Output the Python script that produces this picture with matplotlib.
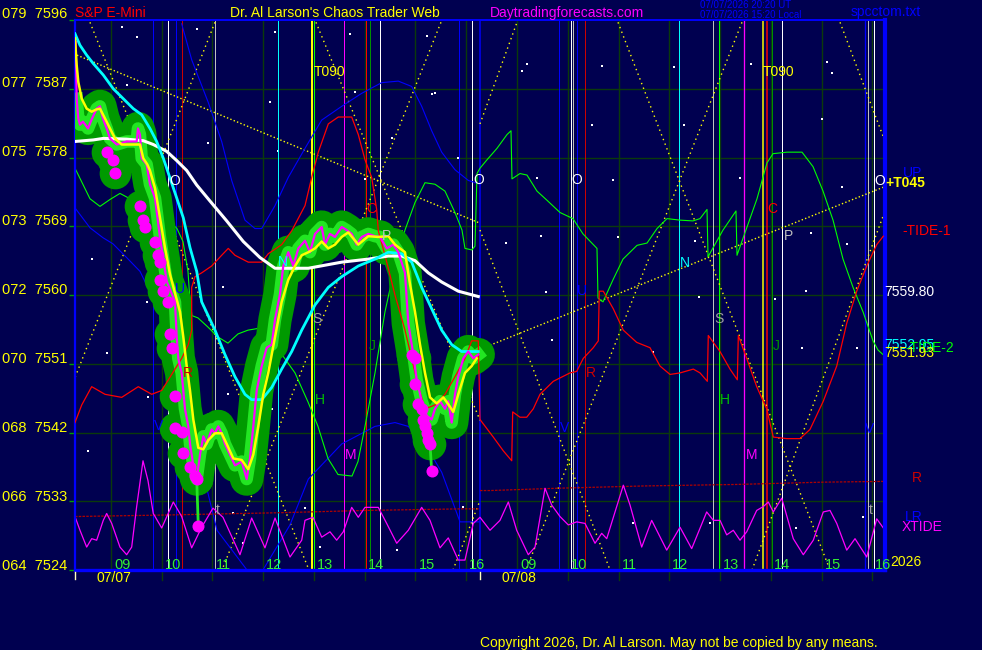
import matplotlib
matplotlib.use("Agg")
import matplotlib.pyplot as plt

plt.rcParams['font.family'] = ['Liberation Sans', 'DejaVu Sans']

W, H = 982, 650
BG = "#000050"
GRID = "#0b3a0b"

# x axis: session hours counted from 07/07 09:00, 8 hours per session
t_min, t_max = -0.709, 15.251
price_min, price_max = 7524.0, 7595.74

grid_prices = [7533, 7542, 7551, 7560, 7569, 7578, 7587]
axis_labels = [(7596, "079  7596"), (7587, "077  7587"), (7578, "075  7578"),
               (7569, "073  7569"), (7560, "072  7560"), (7551, "070  7551"),
               (7542, "068  7542"), (7533, "066  7533"), (7524, "064  7524")]
hour_lines = [0, 1, 2, 3, 4, 5, 6, 7, 8, 9, 10, 11, 12, 13, 14, 15]
hour_labels = ["09", "10", "11", "12", "13", "14", "15", "16"] * 2

# actual price (magenta)
price = [(-0.696, 7593.1), (-0.676, 7585.7), (-0.644, 7583.1), (-0.611, 7582.3), (-0.552, 7582.7),
         (-0.453, 7581.8), (-0.380, 7583.0), (-0.282, 7584.4), (-0.217, 7584.7), (-0.158, 7583.1),
         (-0.085, 7581.8), (-0.020, 7580.5), (0.112, 7579.7), (0.309, 7580.1), (0.506, 7580.1),
         (0.532, 7581.8), (0.571, 7581.0), (0.605, 7577.9), (0.703, 7577.1), (0.768, 7574.5),
         (0.867, 7572.7), (0.966, 7567.5), (1.098, 7561.8), (1.261, 7559.1), (1.295, 7554.5),
         (1.326, 7551.7), (1.393, 7549.8), (1.458, 7545.1), (1.523, 7542.8), (1.557, 7540.5),
         (1.622, 7537.7), (1.689, 7535.9), (1.754, 7539.1), (1.819, 7541.5), (1.886, 7540.5),
         (1.984, 7542.4), (2.049, 7541.9), (2.114, 7542.8), (2.181, 7541.9), (2.246, 7540.5),
         (2.345, 7539.1), (2.443, 7537.7), (2.575, 7538.2), (2.674, 7535.9), (2.739, 7538.6),
         (2.804, 7542.8), (2.871, 7547.5), (2.970, 7550.7), (3.068, 7553.1), (3.167, 7553.5),
         (3.232, 7556.8), (3.330, 7560.1), (3.395, 7563.8), (3.494, 7565.6), (3.592, 7563.8),
         (3.691, 7566.1), (3.823, 7567.1), (3.921, 7565.6), (4.020, 7568.0), (4.152, 7568.9),
         (4.217, 7566.6), (4.315, 7568.0), (4.414, 7567.6), (4.546, 7568.9), (4.644, 7568.5),
         (4.743, 7568.0), (4.841, 7566.6), (4.940, 7567.6), (5.070, 7568.0), (5.202, 7567.7),
         (5.300, 7567.6), (5.433, 7566.1), (5.562, 7566.6), (5.661, 7565.6), (5.793, 7562.9),
         (5.858, 7556.3), (5.957, 7552.2), (6.024, 7548.9), (6.122, 7546.1), (6.221, 7544.2),
         (6.319, 7543.7), (6.384, 7545.1), (6.483, 7546.1), (6.581, 7545.1), (6.646, 7546.1),
         (6.713, 7543.3), (6.778, 7547.0), (6.843, 7549.3), (6.942, 7551.7), (7.040, 7552.6),
         (7.139, 7551.7), (7.237, 7552.2)]

fast_avg = [(-0.709, 7593.6), (-0.676, 7590.1), (-0.644, 7587.9), (-0.577, 7585.7), (-0.479, 7584.4),
            (-0.380, 7584.0), (-0.282, 7584.3), (-0.217, 7584.4), (-0.118, 7583.1), (-0.020, 7581.8),
            (0.079, 7580.5), (0.211, 7579.7), (0.439, 7579.7), (0.571, 7579.7), (0.636, 7577.9),
            (0.715, 7577.1), (0.768, 7576.3), (0.867, 7574.0), (0.966, 7570.1), (1.064, 7566.2),
            (1.163, 7562.7), (1.360, 7557.8), (1.425, 7554.5), (1.492, 7550.7), (1.557, 7547.5),
            (1.622, 7543.7), (1.720, 7540.0), (1.819, 7539.8), (1.917, 7541.0), (2.049, 7541.9),
            (2.181, 7541.9), (2.280, 7540.5), (2.410, 7538.6), (2.575, 7538.4), (2.705, 7537.2),
            (2.804, 7539.1), (2.902, 7542.8), (3.001, 7547.0), (3.099, 7549.8), (3.232, 7554.5),
            (3.363, 7559.1), (3.494, 7562.0), (3.626, 7563.8), (3.758, 7565.2), (3.888, 7565.6),
            (4.020, 7566.1), (4.152, 7567.0), (4.282, 7566.1), (4.414, 7566.6), (4.546, 7567.6),
            (4.676, 7568.2), (4.873, 7566.6), (5.070, 7567.7), (5.267, 7567.6), (5.464, 7567.7),
            (5.596, 7566.6), (5.793, 7565.6), (5.892, 7561.4), (5.990, 7557.8), (6.089, 7553.5),
            (6.187, 7549.8), (6.286, 7546.6), (6.418, 7545.8), (6.548, 7546.6), (6.646, 7545.7),
            (6.745, 7544.7), (6.843, 7547.0), (6.975, 7549.8), (7.107, 7550.7), (7.206, 7551.7)]

mid_avg = [(-0.709, 7594.2), (-0.611, 7592.7), (-0.479, 7591.4), (-0.349, 7590.3), (-0.152, 7588.8),
           (0.045, 7587.0), (0.242, 7585.7), (0.439, 7584.4), (0.605, 7583.6), (0.768, 7581.8),
           (0.900, 7580.1), (1.031, 7577.9), (1.163, 7575.3), (1.295, 7572.7), (1.425, 7570.1),
           (1.557, 7566.2), (1.689, 7563.1), (1.787, 7559.1), (2.049, 7555.4), (2.246, 7552.2),
           (2.443, 7549.3), (2.640, 7547.0), (2.772, 7546.3), (2.970, 7546.3), (3.167, 7547.9),
           (3.363, 7550.3), (3.561, 7552.6), (3.758, 7555.4), (4.020, 7558.7), (4.282, 7561.0),
           (4.546, 7562.4), (4.873, 7563.8), (5.202, 7564.7), (5.464, 7565.6), (5.728, 7565.4),
           (5.925, 7564.3), (6.122, 7561.0), (6.319, 7558.2), (6.516, 7555.4), (6.713, 7553.5),
           (6.910, 7552.6), (7.237, 7552.6)]

slow_avg = [(-0.709, 7580.1), (-0.349, 7580.3), (-0.152, 7580.5), (0.309, 7580.4), (0.636, 7580.2),
            (0.833, 7579.7), (1.098, 7578.8), (1.295, 7577.6), (1.492, 7576.3), (1.689, 7574.4),
            (1.951, 7572.3), (2.280, 7569.7), (2.607, 7567.0), (2.936, 7564.9), (3.232, 7563.5),
            (3.561, 7563.5), (3.888, 7563.5), (4.546, 7564.3), (5.070, 7564.7), (5.464, 7565.1),
            (5.728, 7565.1), (5.990, 7564.5), (6.252, 7562.9), (6.516, 7561.7), (6.843, 7560.5),
            (7.237, 7559.8)]

turn_dots = [(-0.085, 7578.7), (0.045, 7577.7), (0.079, 7576.0), (0.571, 7571.7), (0.636, 7569.8),
             (0.670, 7568.9), (0.867, 7567.0), (0.932, 7565.2), (0.966, 7564.3), (0.966, 7562.0),
             (1.031, 7560.5), (1.129, 7559.1), (1.163, 7554.9), (1.196, 7553.1), (1.261, 7546.8),
             (1.261, 7542.6), (1.393, 7542.1), (1.425, 7539.3), (1.557, 7537.5), (1.655, 7536.3),
             (1.689, 7535.9), (5.925, 7552.2), (5.990, 7551.7), (5.990, 7548.4),
             (6.055, 7545.7), (6.122, 7545.1), (6.154, 7543.7), (6.187, 7542.8), (6.221, 7541.9),
             (6.252, 7541.0), (6.286, 7540.5)]
low_dots = [(1.720, 7529.8), (6.319, 7537.0)]

green_fc = [(-0.709, 7576.6), (-0.414, 7572.6), (-0.217, 7571.6), (-0.020, 7572.5), (0.177, 7573.3),
            (0.374, 7572.6), (0.571, 7572.3), (0.828, 7571.3), (1.103, 7570.0), (1.300, 7568.7),
            (1.419, 7567.0), (1.517, 7563.1), (1.557, 7559.2), (1.596, 7557.3), (1.714, 7557.0),
            (1.911, 7555.8), (2.108, 7554.5), (2.305, 7553.7), (2.502, 7554.9), (2.700, 7555.4),
            (2.877, 7555.6), (3.094, 7554.0), (3.369, 7552.2), (3.626, 7549.8), (3.882, 7546.0),
            (4.079, 7542.8), (4.276, 7538.6), (4.473, 7536.5), (4.749, 7536.3), (4.867, 7538.2),
            (5.005, 7542.8), (5.202, 7549.8), (5.399, 7557.8), (5.596, 7563.8), (5.793, 7568.5),
            (5.990, 7572.1), (6.187, 7574.7), (6.384, 7574.5), (6.581, 7573.6), (6.778, 7570.8),
            (6.916, 7568.5), (6.975, 7566.1), (7.113, 7565.9), (7.172, 7566.4), (7.212, 7575.9),
            (7.271, 7576.6), (7.409, 7577.7), (7.606, 7579.2), (7.803, 7581.0), (7.882, 7581.5),
            (7.901, 7575.2), (8.059, 7575.9), (8.197, 7575.7), (8.394, 7573.6), (8.591, 7572.4),
            (8.847, 7570.8), (9.103, 7570.0), (9.300, 7568.0), (9.576, 7566.1), (9.596, 7559.6),
            (9.695, 7559.1), (9.892, 7562.0), (10.089, 7564.7), (10.365, 7566.5), (10.562, 7566.8),
            (10.759, 7568.7), (10.956, 7570.0), (11.212, 7569.8), (11.468, 7569.7), (11.606, 7570.0),
            (11.744, 7571.2), (11.764, 7565.0), (12.059, 7568.5), (12.315, 7571.0), (12.335, 7565.2),
            (12.532, 7568.9), (12.729, 7572.6), (12.926, 7577.3), (13.044, 7578.5), (13.320, 7578.7),
            (13.616, 7578.7), (13.833, 7576.8), (14.030, 7573.6), (14.227, 7569.8), (14.424, 7564.7),
            (14.621, 7561.0), (14.818, 7557.8), (15.015, 7554.0), (15.113, 7552.8), (15.212, 7552.2)]

red_fc = [(-0.709, 7543.3), (-0.577, 7545.6), (-0.380, 7548.0), (-0.118, 7547.0), (0.211, 7546.6),
          (0.538, 7548.0), (0.802, 7547.0), (0.999, 7547.5), (1.261, 7550.3), (1.393, 7551.7),
          (1.523, 7553.5), (1.590, 7555.4), (1.590, 7561.0), (1.655, 7562.4), (1.787, 7562.9),
          (1.984, 7563.8), (2.181, 7565.2), (2.311, 7566.1), (2.443, 7565.2), (2.705, 7564.3),
          (2.970, 7564.3), (3.099, 7565.4), (3.364, 7566.6), (3.561, 7568.4), (3.823, 7571.7),
          (3.955, 7575.4), (4.085, 7578.7), (4.282, 7582.4), (4.479, 7583.3), (4.743, 7583.3),
          (4.873, 7581.0), (5.005, 7577.7), (5.137, 7575.4), (5.235, 7571.2), (5.267, 7568.4),
          (5.399, 7565.2), (5.596, 7560.0), (5.793, 7555.4), (5.925, 7551.7), (6.055, 7548.0),
          (6.187, 7545.1), (6.384, 7545.6), (6.581, 7547.0), (6.778, 7549.3), (6.975, 7551.7),
          (7.107, 7554.0), (7.237, 7554.0), (7.271, 7543.7), (7.533, 7541.4), (7.730, 7539.6),
          (7.896, 7538.3), (7.915, 7544.7), (8.059, 7544.0), (8.191, 7544.0), (8.321, 7545.1),
          (8.453, 7547.0), (8.715, 7548.7), (9.044, 7549.8), (9.176, 7550.0), (9.306, 7551.7),
          (9.503, 7553.1), (9.602, 7554.0), (9.621, 7560.5), (9.700, 7560.5), (9.897, 7558.2),
          (10.094, 7555.4), (10.358, 7553.8), (10.621, 7553.1), (10.818, 7550.7), (11.015, 7549.6),
          (11.212, 7549.8), (11.474, 7550.3), (11.606, 7549.8), (11.750, 7548.7), (11.769, 7554.7),
          (12.000, 7552.6), (12.197, 7550.3), (12.341, 7548.9), (12.361, 7554.7), (12.526, 7551.7),
          (12.723, 7548.0), (12.920, 7545.1), (13.050, 7541.4), (13.314, 7541.2), (13.576, 7541.2),
          (13.773, 7542.4), (14.035, 7546.1), (14.300, 7550.7), (14.497, 7556.3), (14.694, 7560.5),
          (14.891, 7563.8), (15.088, 7566.6), (15.218, 7567.7)]

blue_hump = [(1.393, 7595.5), (1.590, 7590.8), (1.917, 7585.2), (2.181, 7580.1), (2.378, 7575.0),
             (2.640, 7569.8), (2.837, 7568.7), (2.970, 7568.7), (3.232, 7571.7), (3.494, 7575.4),
             (3.823, 7579.2), (4.152, 7582.9), (4.546, 7584.7), (4.940, 7586.4), (5.334, 7587.8),
             (5.661, 7588.0), (5.925, 7587.3), (6.122, 7584.7), (6.319, 7581.5), (6.516, 7578.7),
             (6.778, 7576.4), (7.040, 7575.0), (7.271, 7574.5)]
blue_fall = [(-0.709, 7571.4), (-0.414, 7568.8), (-0.158, 7567.5), (0.039, 7566.7), (0.309, 7564.9),
             (0.571, 7563.1), (0.867, 7559.1), (1.261, 7551.4), (1.655, 7541.0), (2.089, 7529.2),
             (2.680, 7524.0)]
blue_low = [(2.995, 7524.0), (3.527, 7529.9), (3.888, 7535.9), (4.546, 7540.5), (5.202, 7542.8),
            (5.596, 7543.3), (5.858, 7542.8), (6.187, 7540.5), (6.516, 7536.8), (6.877, 7530.3),
            (7.271, 7530.3)]

red_level_1 = [(-0.709, 7531.0), (1.098, 7531.2), (3.330, 7531.5), (5.039, 7531.8), (6.877, 7532.0),
               (7.271, 7532.0)]
red_level_2 = [(7.271, 7534.4), (7.468, 7534.4), (8.782, 7534.7), (10.489, 7535.0), (12.329, 7535.2),
               (14.035, 7535.5), (15.251, 7535.6)]

xtide = [(-0.709, 7531.0), (-0.611, 7529.2), (-0.479, 7527.0), (-0.380, 7528.1), (-0.282, 7527.9),
         (-0.152, 7530.5), (-0.085, 7531.4), (0.014, 7530.1), (0.177, 7527.0), (0.309, 7526.0),
         (0.408, 7527.0), (0.506, 7532.3), (0.631, 7538.3), (0.729, 7535.7), (0.833, 7531.4),
         (0.999, 7529.5), (1.228, 7532.9), (1.393, 7531.0), (1.590, 7526.9), (1.787, 7529.6),
         (2.010, 7532.1), (2.207, 7530.9), (2.542, 7526.0), (2.772, 7530.8), (3.034, 7526.9),
         (3.232, 7530.8), (3.527, 7525.7), (3.758, 7527.9), (3.823, 7530.5), (3.980, 7530.9),
         (4.152, 7528.3), (4.315, 7529.0), (4.447, 7527.9), (4.577, 7529.0), (4.743, 7532.2),
         (4.873, 7530.9), (5.005, 7532.2), (5.267, 7532.2), (5.432, 7530.1), (5.630, 7527.5),
         (5.858, 7529.2), (6.122, 7532.2), (6.286, 7530.5), (6.483, 7526.9), (6.646, 7528.2),
         (6.843, 7525.3), (6.975, 7525.3), (7.139, 7530.1), (7.271, 7530.9), (7.468, 7529.2),
         (7.665, 7530.5), (7.829, 7532.9), (7.994, 7529.2), (8.223, 7526.0), (8.355, 7527.0),
         (8.552, 7534.7), (8.684, 7532.5), (8.847, 7531.0), (9.011, 7529.9), (9.176, 7530.3),
         (9.340, 7530.1), (9.537, 7527.5), (9.669, 7528.8), (9.768, 7528.1), (10.095, 7535.1),
         (10.227, 7532.5), (10.457, 7527.0), (10.654, 7530.5), (10.950, 7526.6), (11.212, 7529.6),
         (11.442, 7526.8), (11.738, 7531.6), (11.868, 7530.5), (12.000, 7530.5), (12.132, 7528.6),
         (12.262, 7529.2), (12.394, 7527.9), (12.526, 7529.0), (12.723, 7531.8), (12.853, 7532.3),
         (12.952, 7532.9), (13.050, 7531.6), (13.216, 7533.4), (13.444, 7528.1), (13.641, 7526.0),
         (13.838, 7527.9), (14.035, 7531.6), (14.167, 7531.8), (14.300, 7530.1), (14.497, 7526.6),
         (14.660, 7528.1), (14.891, 7525.7), (15.088, 7530.7), (15.251, 7529.2)]

# dotted time/price lines: (start, end)
time_price_lines = [((-0.414, 7595.7), (3.901, 7524.0)), ((2.049, 7595.7), (-0.709, 7549.2)),
                    ((4.039, 7595.7), (7.271, 7543.6)), ((6.502, 7595.7), (2.187, 7524.0)),
                    ((6.739, 7524.0), (7.271, 7533.1)), ((7.271, 7582.4), (8.000, 7595.7)),
                    ((7.271, 7568.5), (9.833, 7524.0)), ((9.990, 7595.7), (14.167, 7524.0)),
                    ((12.433, 7595.7), (8.177, 7524.0)), ((12.631, 7524.0), (15.251, 7571.0)),
                    ((14.365, 7595.7), (15.251, 7580.1))]
trend_lines = [((-0.670, 7591.4), (7.271, 7569.4)), ((7.271, 7552.9), (15.251, 7574.2))]

# vertical timing lines: (time, colour, width px)
timing_lines = [(0.828, '#0000ff', 1), (1.123, '#ffffff', 1), (1.281, '#0000ff', 1), (1.399, '#cc0000', 1),
                (2.049, '#c0c0c0', 1), (3.291, '#00ffff', 1), (3.961, '#ffff00', 2), (4.000, '#00ff00', 1),
                (4.591, '#ff00ff', 1), (5.025, '#ff0000', 1), (5.103, '#009000', 1), (5.300, '#ffffff', 1),
                (6.857, '#0000ff', 1), (7.113, '#ffffff', 1), (7.271, '#0000ff', 1.5),
                (8.833, '#0000ff', 1), (9.058, '#ffffff', 1), (9.109, '#c0c0c0', 1), (9.176, '#0000ff', 1),
                (9.346, '#cc0000', 1), (11.198, '#00ffff', 1), (11.868, '#c0c0c0', 1), (11.986, '#00ff00', 1),
                (12.479, '#ff00ff', 1.3), (12.841, '#ffff00', 1.5), (12.920, '#ff0000', 1.5),
                (13.030, '#009000', 1), (13.227, '#ffffff', 1), (14.857, '#0000ff', 1.3),
                (14.910, '#c0c0c0', 1), (15.040, '#ffffff', 1)]

letters = [(1.261, 7574.9, 'O', '#ffffff'), (1.360, 7560.8, 'U', '#0000ff'), (1.523, 7549.8, 'R', '#cc0000'),
           (0.932, 7542.8, 'V', '#0000ff'), (2.114, 7531.9, 't', '#a0a0a0'), (3.395, 7564.3, 'N', '#00ffff'),
           (4.053, 7556.8, 'S', '#a0a0a0'), (4.118, 7546.2, 'H', '#00c000'), (4.729, 7539.0, 'M', '#ff00ff'),
           (5.137, 7571.2, 'C', '#ff0000'), (5.157, 7553.3, 'J', '#009000'), (5.432, 7567.7, 'P', '#c0c0c0'),
           (7.251, 7575.0, 'O', '#ffffff'), (9.176, 7575.0, 'O', '#ffffff'), (9.275, 7560.5, 'U', '#0000ff'),
           (9.458, 7549.8, 'R', '#cc0000'), (8.946, 7542.6, 'V', '#0000ff'), (11.310, 7564.2, 'N', '#00ffff'),
           (11.986, 7556.9, 'S', '#a0a0a0'), (12.099, 7546.2, 'H', '#00c000'), (12.624, 7539.0, 'M', '#ff00ff'),
           (13.030, 7571.2, 'C', '#ff0000'), (13.117, 7553.3, 'J', '#009000'), (13.346, 7567.7, 'P', '#c0c0c0'),
           (14.956, 7542.4, 'V', '#0000ff'), (14.970, 7531.9, 't', '#a0a0a0'), (15.153, 7574.9, 'O', '#ffffff')]
turn_marks = [(4.000, 7589.2, 'T090'), (12.850, 7589.2, 'T090')]

stars = [(0.211, 7595.1), (0.309, 7587.5), (3.133, 7585.3), (3.232, 7594.4), (4.709, 7594.2), (4.808, 7586.6),
         (6.221, 7593.9), (6.319, 7586.3), (1.689, 7594.8), (8.191, 7590.3), (8.093, 7589.3), (9.681, 7590.0),
         (11.099, 7589.9), (12.605, 7590.3), (14.102, 7590.5), (14.201, 7589.1), (14.004, 7583.0),
         (12.394, 7575.3), (14.398, 7574.1), (13.793, 7568.1), (14.496, 7566.7), (13.695, 7560.5),
         (13.090, 7559.5), (14.694, 7553.0), (13.610, 7553.1), (9.484, 7582.2), (8.388, 7575.3),
         (9.898, 7575.0), (7.789, 7566.8), (8.479, 7567.7), (9.996, 7567.6), (8.571, 7560.4),
         (11.592, 7559.7), (8.690, 7554.1), (10.674, 7552.5), (11.291, 7582.2), (11.501, 7567.1),
         (2.410, 7531.4), (2.607, 7527.5), (4.118, 7527.0), (5.630, 7526.6), (6.942, 7532.3),
         (10.292, 7530.1), (11.803, 7530.2), (13.498, 7529.5), (14.812, 7530.9), (0.506, 7593.8),
         (1.917, 7579.9), (3.297, 7578.8), (3.823, 7566.1), (0.703, 7559.1), (-0.085, 7552.4),
         (-0.447, 7539.6), (0.735, 7546.6), (-0.380, 7564.7), (2.213, 7561.0), (2.311, 7547.0),
         (5.858, 7561.0), (6.483, 7545.8), (6.384, 7586.4), (5.531, 7580.6), (5.005, 7575.2),
         (6.843, 7578.0), (3.167, 7545.1), (3.823, 7532.1)]


def px_to_fig(x, y):
    return x / W, 1 - y / H


def xy(series):
    return [s[0] for s in series], [s[1] for s in series]


fig = plt.figure(figsize=(W / 100, H / 100), dpi=100, facecolor=BG)
ax = fig.add_axes([75 / W, 80 / H, 810 / W, 550 / H], facecolor=BG)
ax.set_xlim(t_min, t_max)
ax.set_ylim(price_min, price_max)
ax.set_xticks([])
ax.set_yticks([p for p, _ in axis_labels])
ax.set_yticklabels([])
ax.tick_params(axis='y', length=4, width=1, color='#00a000')

# frame
for side, lw in (('left', 1.6), ('top', 1.4), ('bottom', 2.4), ('right', 3.0)):
    ax.spines[side].set_color('#0000ff')
    ax.spines[side].set_linewidth(lw)

# grid
for p in grid_prices:
    ax.axhline(p, color=GRID, lw=1.0, zorder=0.5)
for h in hour_lines:
    ax.axvline(h, ymin=-0.018, ymax=1, color=GRID, lw=1.0, zorder=0.5, clip_on=False)

# stars
sx, sy = xy(stars)
ax.scatter(sx, sy, s=1.5, color='white', marker='s', linewidths=0, zorder=0.8)

# timing lines
for t, c, w in timing_lines:
    ax.axvline(t, color=c, lw=w * 0.72, zorder=1)

# dotted lines
for (a, b) in time_price_lines:
    ax.plot([a[0], b[0]], [a[1], b[1]], color='#ffff00', lw=1.0, ls=(0, (1, 2.6)), zorder=1.5)
for (a, b) in trend_lines:
    ax.plot([a[0], b[0]], [a[1], b[1]], color='#ffff00', lw=1.0, ls=(0, (1, 1.6)), zorder=1.5)

# forecast lines
ax.plot(*xy(blue_hump), color='#0000ff', lw=0.8, zorder=2)
ax.plot(*xy(blue_fall), color='#0000ff', lw=0.8, zorder=2)
ax.plot(*xy(blue_low), color='#0000ff', lw=0.8, zorder=2)
ax.plot(*xy(red_level_1), color='#b00000', lw=0.9, ls=(0, (2, 1)), zorder=2)
ax.plot(*xy(red_level_2), color='#b00000', lw=0.9, ls=(0, (2, 1)), zorder=2)
ax.plot(*xy(xtide), color='#ff00ff', lw=0.9, zorder=2)
ax.plot(*xy(green_fc), color='#00ff00', lw=0.8, zorder=2)

# price glow (bar range band)
pt, pp = xy(price)
dx, dy = xy(turn_dots)
lx, ly = xy(low_dots)
ax.plot(pt[2:], pp[2:], color='#009a00', lw=24, solid_capstyle='round', solid_joinstyle='round', zorder=3)
ax.scatter(dx, dy, s=520, color='#009a00', linewidths=0, zorder=3)
ax.plot(pt[1:], pp[1:], color='#22e622', lw=9, solid_joinstyle='round', zorder=3.2)
for (t0, p0), (t1, p1) in zip(low_dots, [(1.689, 7535.9), (6.286, 7540.5)]):
    ax.plot([t0, t1], [p0, p1], color='#22e622', lw=2, zorder=3.2)

ax.plot(*xy(red_fc), color='#ff0000', lw=0.9, zorder=3.5)

ax.plot(*xy(slow_avg), color='#ffffff', lw=2.2, zorder=4)
ax.plot(*xy(mid_avg), color='#00ffff', lw=2.0, zorder=4)
ax.plot(pt, pp, color='#ff00ff', lw=1.6, zorder=5)
ax.plot(*xy(fast_avg), color='#ffff00', lw=1.8, zorder=6)
ax.scatter(dx + lx, dy + ly, s=75, color='#ff00ff', linewidths=0, zorder=7)

# letters on the chart
for t, p, s, c in letters:
    ax.text(t, p, s, color=c, fontsize=10, ha='center', va='center', zorder=8)
for t, p, s in turn_marks:
    ax.text(t, p, s, color='#ffff00', fontsize=10, ha='left', va='center', zorder=8)

# hour labels
for h, lab in zip(hour_lines, hour_labels):
    ax.text(h + 0.06, 7524.65, lab, color='#33ee33', fontsize=10.5, ha='left', va='center',
            zorder=8, clip_on=False)
ax.text(0.06, 7522.9, "07/07", color='#ffff00', fontsize=10, ha='center', va='center', clip_on=False)
ax.text(8.04, 7522.9, "07/08", color='#ffff00', fontsize=10, ha='center', va='center', clip_on=False)
for t in (t_min, 7.271):
    ax.plot([t, t], [7523.7, 7522.8], color='#ffffc0', lw=1, clip_on=False, zorder=8)

# price axis labels
for p, lab in axis_labels:
    y = 570 - (p - 7524) * 7.667 - 4
    fig.text(*px_to_fig(2, y), lab, color='#ffff00', fontsize=10.5, ha='left', va='center')

# header
fig.text(*px_to_fig(75, 13), "S&P E-Mini", color='#ff0000', fontsize=10, va='center')
fig.text(*px_to_fig(230, 13), "Dr. Al Larson's Chaos Trader Web", color='#ffff00', fontsize=10, va='center')
fig.text(*px_to_fig(490, 13), "Daytradingforecasts.com", color='#ff00ff', fontsize=10, va='center')
fig.text(*px_to_fig(700, 5), "07/07/2026 20:20 UT", color='#0000ff', fontsize=7, va='center')
fig.text(*px_to_fig(700, 15), "07/07/2026 15:20 Local", color='#0000ff', fontsize=7, va='center')
fig.text(*px_to_fig(851, 12), "spcctom.txt", color='#0000ff', fontsize=10, va='center')

# right side labels (they overlap in the original too)
fig.text(*px_to_fig(903, 173), "UP", color='#0000ff', fontsize=10, va='center')
fig.text(*px_to_fig(885, 183), "+T045", color='#ffff00', fontsize=10, va='center', fontweight='bold')
fig.text(*px_to_fig(902, 231), "-TIDE-1", color='#ff0000', fontsize=10, va='center')
fig.text(*px_to_fig(884, 292), "7559.80", color='#ffffff', fontsize=10, va='center')
fig.text(*px_to_fig(884, 345), "7552.95", color='#00ffff', fontsize=10, va='center')
fig.text(*px_to_fig(905, 348), "-TIDE-2", color='#00ff00', fontsize=10, va='center')
fig.text(*px_to_fig(884, 353), "7551.93", color='#ffff00', fontsize=10, va='center')
fig.text(*px_to_fig(912, 478), "R", color='#cc0000', fontsize=10, va='center')
fig.text(*px_to_fig(905, 517), "LR", color='#0000ff', fontsize=10, va='center')
fig.text(*px_to_fig(902, 527), "XTIDE", color='#ff00ff', fontsize=10, va='center')
fig.text(*px_to_fig(890, 562), "2026", color='#ffff00', fontsize=10, va='center')

fig.text(*px_to_fig(480, 643), "Copyright 2026, Dr. Al Larson. May not be copied by any means.",
         color='#ffff00', fontsize=10, va='center')

fig.savefig("out.png", dpi=100, facecolor=BG)
